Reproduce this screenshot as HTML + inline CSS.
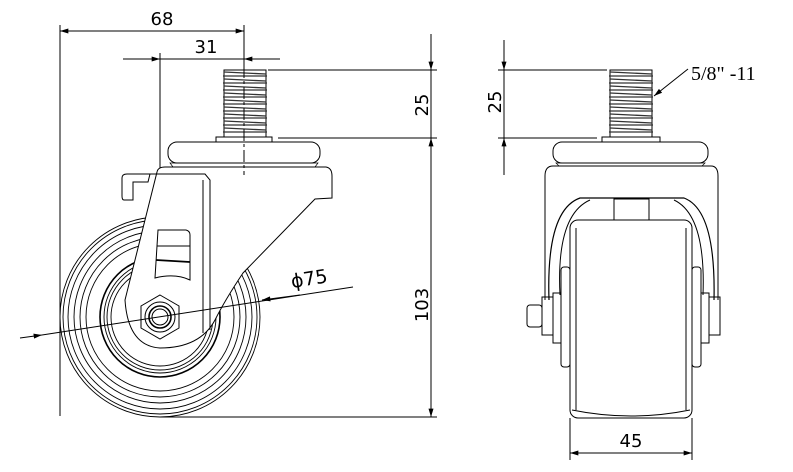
<!DOCTYPE html>
<html><head><meta charset="utf-8"><style>
html,body{margin:0;padding:0;background:#fff}
svg{display:block}
text{font-family:"DejaVu Sans","Liberation Sans",sans-serif;fill:#000}
</style></head><body>
<svg width="793" height="472" viewBox="0 0 793 472" xmlns="http://www.w3.org/2000/svg">
<defs>
<marker id="a" viewBox="0 0 10 6" refX="10" refY="3" markerWidth="16" markerHeight="5" markerUnits="userSpaceOnUse" orient="auto-start-reverse"><path d="M0,0L10,3L0,6z" fill="#000"/></marker>
</defs>
<g stroke="#000" fill="none" stroke-width="1">
<line x1="60" y1="25" x2="60" y2="416"/>
<line x1="244" y1="25" x2="244" y2="66"/>
<line x1="60" y1="31" x2="244" y2="31" marker-start="url(#a)" marker-end="url(#a)"/>
<line x1="160" y1="53" x2="160" y2="317"/>
<line x1="123" y1="59" x2="160" y2="59" marker-end="url(#a)"/>
<line x1="280" y1="59" x2="244" y2="59" marker-end="url(#a)"/>
<line x1="160" y1="59" x2="244" y2="59"/>
<line x1="268" y1="70" x2="437" y2="70"/>
<line x1="278" y1="138" x2="437" y2="138"/>
<line x1="160" y1="417" x2="437" y2="417"/>
<line x1="431" y1="34" x2="431" y2="70" marker-end="url(#a)"/>
<line x1="431" y1="70" x2="431" y2="138"/>
<line x1="431" y1="417" x2="431" y2="138" marker-start="url(#a)" marker-end="url(#a)"/>
<g stroke-width="0.9">
<circle cx="160" cy="317" r="100"/><circle cx="160" cy="317" r="97"/><circle cx="160" cy="317" r="92"/>
<circle cx="160" cy="317" r="86"/><circle cx="160" cy="317" r="80"/><circle cx="160" cy="317" r="74"/>
<circle cx="160" cy="317" r="60" stroke-width="1.6"/><circle cx="160" cy="317" r="56"/><circle cx="160" cy="317" r="53"/><circle cx="160" cy="317" r="49"/>
</g>
<path d="M157,172 Q158,167 165,167 L326,167 Q332,168 332,176 L332,198 L315,199 L243,273 Q225,300 215,320 Q200,348 160,348 Q128,346 125,300 Z" fill="#fff"/>
<path d="M130,174 L205,174 L210,180 L210,330"/>
<line x1="203" y1="180" x2="203" y2="333"/>
<path d="M122,178 Q122,174 127,174 L150,174 L148,182 L133,182 L133,200 L124,200 Q122,200 122,196 Z" fill="#fff"/>
<path d="M158,230 L186,230 Q190,231 190,235 L190,280 Q175,273 155,278 Z"/>
<line x1="157" y1="246" x2="190" y2="246"/><line x1="156" y1="260" x2="190" y2="262" stroke-width="1.8"/>
<polygon points="160,295 179,306 179,328 160,339 141,328 141,306" fill="#fff"/>
<circle cx="160" cy="317" r="15"/><circle cx="160" cy="317" r="11" stroke-width="1.6"/><circle cx="160" cy="317" r="8"/>
<rect x="168" y="142" width="152" height="21" rx="9" fill="#fff"/>
<path d="M170,163 L318,163 L315,167 L173,167Z" stroke-width="0.7"/>
<rect x="216" y="137" width="56" height="5" fill="#fff"/>
<rect x="224" y="70" width="42" height="67" fill="#fff"/>
<g stroke-width="1.3" stroke="#333">
<path d="M224,72l42,2M223,76h44M224,79l42,2M223,83h44M224,86l42,2M223,90h44M224,93l42,2M223,97h44M224,100l42,2M223,104h44M224,107l42,2M223,111h44M224,114l42,2M223,118h44M224,121l42,2M223,125h44M224,128l42,2M223,132h44"/>
</g>
<line x1="244" y1="66" x2="244" y2="175" stroke-dasharray="12,3,3,3"/>
<line x1="42" y1="335" x2="353" y2="287"/>
<line x1="20" y1="338" x2="42" y2="335" marker-end="url(#a)"/>
<line x1="300" y1="295" x2="262" y2="300" marker-end="url(#a)"/>
<!-- RIGHT VIEW -->
<line x1="498" y1="70" x2="607" y2="70"/>
<line x1="498" y1="138" x2="597" y2="138"/>
<line x1="504" y1="40" x2="504" y2="70" marker-end="url(#a)"/>
<line x1="504" y1="70" x2="504" y2="138"/>
<line x1="504" y1="175" x2="504" y2="138" marker-end="url(#a)"/>
<line x1="688" y1="69" x2="654" y2="96" marker-end="url(#a)"/>
<path d="M545,176 Q545,166 553,166 L711,166 Q718,166 718,176 L718,300"/>
<line x1="545" y1="176" x2="545" y2="300"/>
<path d="M549,300 Q546,210 580,198 L684,198 Q716,210 714,300" stroke-width="1.2"/>
<path d="M560,295 Q556,215 590,200 M703,295 Q706,215 674,200"/>
<rect x="614" y="199" width="35" height="21"/>
<rect x="570" y="220" width="122" height="198" rx="8" fill="#fff"/>
<line x1="576" y1="228" x2="576" y2="410"/><line x1="686" y1="228" x2="686" y2="410"/>
<path d="M572,410 Q631,422 690,410"/>
<rect x="561" y="267" width="9" height="100" rx="3"/><rect x="692" y="267" width="9" height="100" rx="3"/>
<rect x="553" y="293" width="8" height="50"/><rect x="701" y="293" width="8" height="50"/>
<rect x="542" y="297" width="11" height="38"/><rect x="709" y="297" width="11" height="38"/>
<rect x="527" y="305" width="15" height="22" rx="3"/>
<rect x="553" y="142" width="155" height="21" rx="9" fill="#fff"/>
<path d="M556,163 L705,163 L702,166 L559,166Z" stroke-width="0.7"/>
<rect x="602" y="137" width="58" height="5" fill="#fff"/>
<rect x="610" y="70" width="42" height="67" fill="#fff"/>
<g stroke-width="1.3" stroke="#333">
<path d="M610,72l42,2M609,76h44M610,79l42,2M609,83h44M610,86l42,2M609,90h44M610,93l42,2M609,97h44M610,100l42,2M609,104h44M610,107l42,2M609,111h44M610,114l42,2M609,118h44M610,121l42,2M609,125h44M610,128l42,2M609,132h44"/>
</g>
<line x1="570" y1="418" x2="570" y2="460"/><line x1="692" y1="418" x2="692" y2="460"/>
<line x1="570" y1="453" x2="692" y2="453" marker-start="url(#a)" marker-end="url(#a)"/>
</g>
<text x="162" y="25" font-size="18" text-anchor="middle">68</text>
<text x="206" y="53" font-size="18" text-anchor="middle">31</text>
<text x="292" y="288" font-size="19" transform="rotate(-9 292 288)">ϕ75</text>
<text transform="translate(428,105) rotate(-90)" font-size="18" text-anchor="middle">25</text>
<text transform="translate(428,305) rotate(-90)" font-size="18" text-anchor="middle">103</text>
<text transform="translate(501,102) rotate(-90)" font-size="18" text-anchor="middle">25</text>
<text x="691" y="80" font-size="20" style="font-family:'Liberation Serif',serif">5/8" -11</text>
<text x="631" y="447" font-size="18" text-anchor="middle">45</text>
</svg>
</body></html>
